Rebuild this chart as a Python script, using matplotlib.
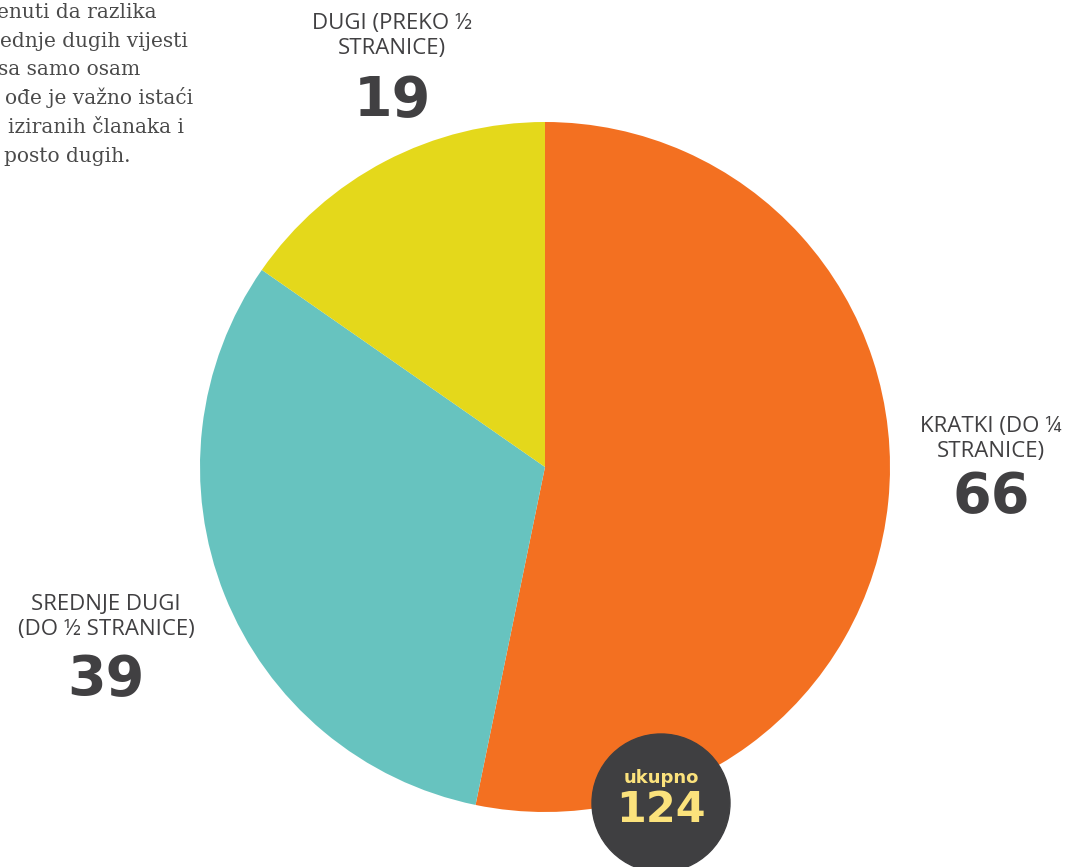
import matplotlib
matplotlib.use("Agg")
import matplotlib.pyplot as plt
from matplotlib.patches import Circle

# ---- data ----
categories = ["KRATKI (DO ¼\nSTRANICE)", "SREDNJE DUGI\n(DO ½ STRANICE)", "DUGI (PREKO ½\nSTRANICE)"]
values = [66, 39, 19]
colors = ["#f37021", "#67c3bf", "#e4d81b"]
total_label = "ukupno"
note_lines = ["enuti da razlika", "ednje dugih vijesti", "sa samo osam",
              "ođe je važno istaći", "iziranih članaka i", "posto dugih."]

W, H = 1068, 867
fig = plt.figure(figsize=(W / 100, H / 100), dpi=100)
fig.patch.set_facecolor("white")

# pie axes (pixel-placed)
cx, cy, r = 545, 467, 345
pax = fig.add_axes([(cx - r) / W, (H - cy - r) / H, 2 * r / W, 2 * r / H])
pax.pie(values, colors=colors, startangle=90, counterclock=False, radius=1,
        wedgeprops=dict(linewidth=0))
pax.set_xlim(-1, 1)
pax.set_ylim(-1, 1)
pax.set_aspect("equal")
pax.axis("off")

# overlay axes in pixel coordinates
ox = fig.add_axes([0, 0, 1, 1])
ox.set_xlim(0, W)
ox.set_ylim(H, 0)
ox.axis("off")
ox.patch.set_alpha(0)

txt = "#414042"
label_font = ["Open Sans", "DejaVu Sans"]
label_pos = [(991, 439, 497), (106, 617, 680), (392, 36, 101)]
for cat, val, (x, ylab, ynum) in zip(categories, values, label_pos):
    ox.text(x, ylab, cat, ha="center", va="center", fontsize=16, color=txt,
            family=label_font, linespacing=1.22)
    ox.text(x, ynum, str(val), ha="center", va="center", fontsize=40,
            color=txt, family="DejaVu Sans", fontweight="heavy")

# note text (cut off at left edge, as in the source)
note_right = [157, 188, 140, 193, 184, 130]
for i, (line, xr) in enumerate(zip(note_lines, note_right)):
    ox.text(xr, 18 + 28.7 * i, line, ha="right", va="baseline", fontsize=14.5,
            color="#4a4a4a", family="DejaVu Serif")

# total badge
ox.add_patch(Circle((661, 803), 69, color="#3f3f41", zorder=5, clip_on=False))
ox.text(661, 778, total_label, ha="center", va="center", fontsize=13,
        color="#fbe27c", fontweight="bold", family="DejaVu Sans", zorder=6)
ox.text(661, 810, str(sum(values)), ha="center", va="center", fontsize=31,
        color="#fbe27c", fontweight="heavy", family="DejaVu Sans", zorder=6)

fig.savefig("out.png", dpi=100)
